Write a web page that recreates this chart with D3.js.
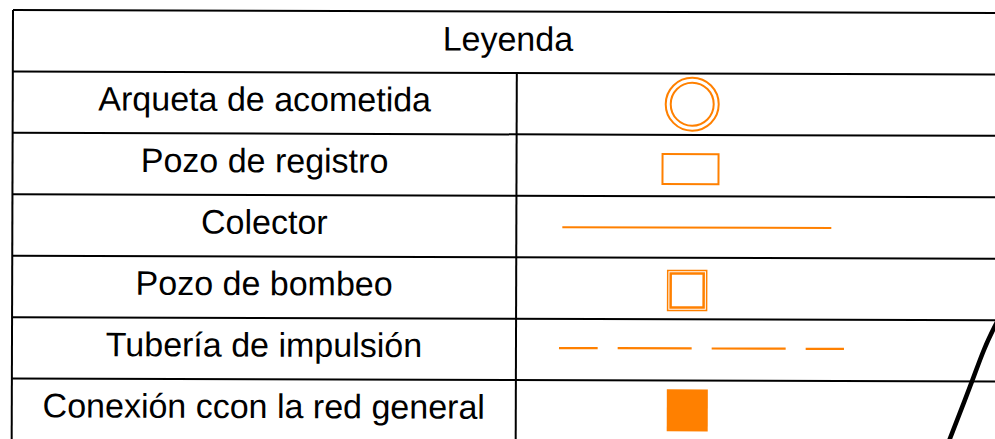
<!DOCTYPE html>
<html>
<head>
<meta charset="utf-8">
<script src="https://cdn.jsdelivr.net/npm/d3@7/dist/d3.min.js"></script>
<style>
  html, body { margin: 0; padding: 0; background: #fff; }
  svg { display: block; }
</style>
</head>
<body>
<div id="chart"></div>
<script>
// ---- data ----
const title = "Leyenda";
const labels = [
  "Arqueta de acometida",
  "Pozo de registro",
  "Colector",
  "Pozo de bombeo",
  "Tubería de impulsión",
  "Conexión ccon la red general"
];
const symbols = ["doubleCircle", "rect", "line", "doubleSquare", "dashed", "filledSquare"];
const symbolColor = "#ff8000";

// ---- layout ----
(function () {
const W = 995, H = 439;
const svg = d3.select("#chart").append("svg")
  .attr("width", W).attr("height", H)
  .attr("viewBox", `0 0 ${W} ${H}`);

const tLeft = 13, tMid = 517, tRight = 1003, tTop = 10, tBottom = 440;
const rows = [title, ...labels];
const y = d3.scaleBand().domain(rows).range([tTop, tBottom]).padding(0);

// whole sheet is very slightly rotated
const g = svg.append("g").attr("transform", `rotate(0.175 ${tLeft} ${tTop})`);

const font = "'Liberation Sans', Arial, sans-serif";

// table lines
const lineColor = "#000";
rows.forEach(r => {
  g.append("line")
    .attr("x1", tLeft).attr("x2", tRight + 20)
    .attr("y1", y(r)).attr("y2", y(r))
    .attr("stroke", lineColor).attr("stroke-width", 2);
});
g.append("line")
  .attr("x1", tLeft).attr("x2", tLeft)
  .attr("y1", tTop).attr("y2", tBottom)
  .attr("stroke", lineColor).attr("stroke-width", 2);
g.append("line")
  .attr("x1", tMid).attr("x2", tMid)
  .attr("y1", y(labels[0])).attr("y2", tBottom)
  .attr("stroke", lineColor).attr("stroke-width", 2);

// header
g.append("text")
  .attr("x", (tLeft + tRight) / 2)
  .attr("y", y(title) + y.bandwidth() / 2 + 8.5)
  .attr("text-anchor", "middle")
  .attr("font-family", font).attr("font-size", 34)
  .attr("fill", "#000")
  .text(title);

// labels
g.selectAll("text.lbl").data(labels).enter().append("text")
  .attr("class", "lbl")
  .attr("x", (tLeft + tMid) / 2)
  .attr("y", d => y(d) + y.bandwidth() / 2 + 8)
  .attr("text-anchor", "middle")
  .attr("font-family", font).attr("font-size", 34)
  .attr("fill", "#000")
  .text(d => d);

// symbols
const sx = 692;
labels.forEach((lab, i) => {
  const cy = y(lab) + y.bandwidth() / 2;
  const s = symbols[i];
  const sg = g.append("g");
  if (s === "doubleCircle") {
    sg.append("circle").attr("cx", sx + 0.5).attr("cy", cy).attr("r", 26.5)
      .attr("fill", "none").attr("stroke", symbolColor).attr("stroke-width", 2);
    sg.append("circle").attr("cx", sx + 0.5).attr("cy", cy).attr("r", 21.5)
      .attr("fill", "none").attr("stroke", symbolColor).attr("stroke-width", 2);
  } else if (s === "rect") {
    sg.append("rect").attr("x", sx - 29).attr("y", cy - 11.5).attr("width", 56).attr("height", 30)
      .attr("fill", "none").attr("stroke", symbolColor).attr("stroke-width", 2);
  } else if (s === "line") {
    sg.append("line").attr("x1", sx - 129).attr("x2", sx + 140)
      .attr("y1", cy + 0.5).attr("y2", cy + 0.5)
      .attr("stroke", symbolColor).attr("stroke-width", 2);
  } else if (s === "doubleSquare") {
    sg.append("rect").attr("x", sx - 23.5).attr("y", cy - 18).attr("width", 39).attr("height", 40)
      .attr("fill", "none").attr("stroke", symbolColor).attr("stroke-width", 1.5);
    sg.append("rect").attr("x", sx - 20.5).attr("y", cy - 15).attr("width", 33).attr("height", 34)
      .attr("fill", "none").attr("stroke", symbolColor).attr("stroke-width", 2.5);
  } else if (s === "dashed") {
    sg.append("line").attr("x1", sx - 132).attr("x2", sx + 153)
      .attr("y1", cy - 1.5).attr("y2", cy - 1.5)
      .attr("stroke", symbolColor).attr("stroke-width", 2.2)
      .attr("stroke-dasharray", "74 20").attr("stroke-dashoffset", 35.3);
  } else if (s === "filledSquare") {
    sg.append("rect").attr("x", sx - 24).attr("y", cy - 22).attr("width", 41).attr("height", 42)
      .attr("fill", symbolColor);
  }
});

// diagonal stroke from the underlying map
svg.append("path")
  .attr("d", d3.line().curve(d3.curveBasis)([[997, 322], [984, 348], [972, 382], [949, 441]]))
  .attr("fill", "none").attr("stroke", "#000").attr("stroke-width", 4.5);
})();
</script>
</body>
</html>
